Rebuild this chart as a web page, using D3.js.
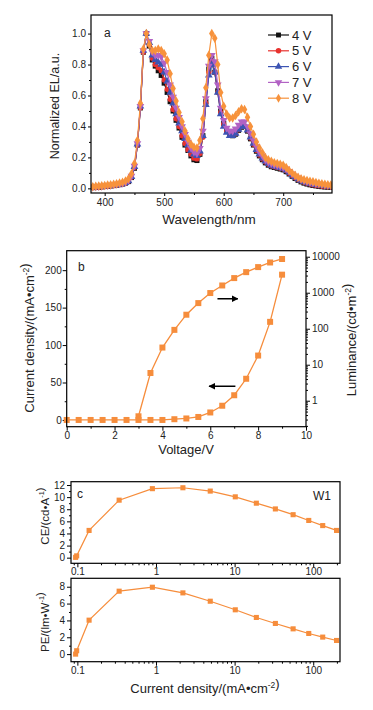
<!DOCTYPE html>
<html>
<head>
<meta charset="utf-8">
<script src="https://cdn.jsdelivr.net/npm/d3@7"></script>
<style>
  body { margin: 0; background: #fff; }
  svg text { font-family: "Liberation Sans", Arial, sans-serif; fill: #222; }
</style>
</head>
<body>
<svg id="chart" width="373" height="710"></svg>
<script>
// ---- panel a : EL spectra ----
const wavelength = [380,385,390,395,400,405,410,415,420,425,430,435,440,445,450,455,460,465,470,475,
  480,485,490,495,500,505,510,515,520,525,530,535,540,545,550,555,560,565,570,575,
  580,585,590,595,600,605,610,615,620,625,630,635,640,645,650,655,660,665,670,675,
  680,685,690,695,700,705,710,715,720,725,730,735,740,745,750,755,760,765,770,775,780];
const el4V = [0.005,0.006,0.008,0.010,0.012,0.014,0.016,0.018,0.021,0.024,0.028,0.034,0.044,0.07,0.13,0.28,0.52,0.88,1.0,0.92,
  0.83,0.79,0.76,0.73,0.68,0.62,0.56,0.50,0.44,0.39,0.33,0.28,0.245,0.21,0.185,0.18,0.22,0.34,0.56,0.77,
  0.84,0.75,0.63,0.50,0.42,0.37,0.35,0.34,0.35,0.375,0.395,0.40,0.37,0.32,0.28,0.24,0.21,0.185,0.165,0.15,
  0.14,0.135,0.13,0.125,0.12,0.108,0.093,0.078,0.064,0.052,0.042,0.034,0.028,0.023,0.019,0.016,0.013,0.011,0.009,0.008,0.007];
const el5V = [0.006,0.007,0.009,0.011,0.013,0.015,0.017,0.019,0.022,0.025,0.029,0.035,0.046,0.072,0.135,0.28,0.52,0.88,1.0,0.93,
  0.84,0.80,0.78,0.76,0.70,0.64,0.575,0.51,0.45,0.40,0.34,0.29,0.25,0.22,0.195,0.19,0.225,0.33,0.55,0.75,
  0.82,0.75,0.62,0.49,0.415,0.37,0.35,0.345,0.355,0.38,0.40,0.40,0.375,0.325,0.285,0.245,0.215,0.19,0.17,0.155,
  0.145,0.14,0.135,0.13,0.125,0.113,0.098,0.083,0.068,0.057,0.047,0.039,0.033,0.028,0.024,0.02,0.017,0.015,0.013,0.011,0.01];
const el6V = [0.007,0.008,0.010,0.012,0.014,0.016,0.018,0.020,0.023,0.026,0.030,0.036,0.047,0.075,0.14,0.285,0.53,0.89,1.0,0.94,
  0.86,0.83,0.815,0.80,0.75,0.69,0.62,0.55,0.48,0.42,0.37,0.32,0.28,0.245,0.22,0.21,0.24,0.34,0.54,0.73,
  0.80,0.75,0.62,0.48,0.40,0.36,0.34,0.34,0.355,0.38,0.40,0.40,0.375,0.33,0.29,0.25,0.22,0.195,0.175,0.16,
  0.15,0.143,0.138,0.133,0.128,0.117,0.102,0.087,0.073,0.061,0.051,0.043,0.037,0.032,0.028,0.024,0.021,0.018,0.016,0.014,0.012];
const el7V = [0.009,0.010,0.012,0.014,0.016,0.018,0.020,0.023,0.026,0.029,0.033,0.040,0.052,0.08,0.145,0.29,0.53,0.89,1.0,0.95,
  0.88,0.86,0.86,0.85,0.81,0.75,0.67,0.59,0.52,0.46,0.40,0.35,0.30,0.26,0.235,0.225,0.26,0.37,0.58,0.79,
  0.86,0.82,0.67,0.52,0.44,0.39,0.37,0.37,0.385,0.41,0.43,0.43,0.40,0.355,0.31,0.27,0.235,0.21,0.185,0.17,
  0.16,0.152,0.147,0.142,0.137,0.126,0.11,0.094,0.08,0.068,0.058,0.05,0.044,0.039,0.035,0.031,0.028,0.025,0.022,0.02,0.018];
const el8V = [0.011,0.013,0.015,0.017,0.019,0.021,0.024,0.027,0.030,0.034,0.039,0.047,0.062,0.095,0.16,0.31,0.55,0.90,1.0,0.93,
  0.89,0.89,0.90,0.89,0.87,0.83,0.74,0.645,0.565,0.49,0.43,0.37,0.32,0.285,0.265,0.26,0.31,0.45,0.65,0.86,
  1.0,0.97,0.80,0.62,0.53,0.48,0.455,0.455,0.47,0.495,0.515,0.51,0.46,0.40,0.35,0.30,0.26,0.23,0.20,0.185,
  0.175,0.165,0.16,0.155,0.15,0.135,0.115,0.10,0.085,0.072,0.062,0.055,0.05,0.046,0.043,0.038,0.033,0.029,0.026,0.023,0.021];
const seriesNames = ["4 V", "5 V", "6 V", "7 V", "8 V"];

// ---- panel b : J-V-L ----
const voltage = [0,0.5,1,1.5,2,2.5,3,3.5,4,4.5,5,5.5,6,6.5,7,7.5,8,8.5,9];
const currentDensity = [0,0,0,0,0,0,0,0,0,1,2,4,10,19,33,55,86,131,194];
const lumVoltage = [3,3.5,4,4.5,5,5.5,6,6.5,7,7.5,8,8.5,9];
const luminance = [0.37,5.9,30,93,245,515,980,1590,2550,3730,5150,6920,8660];

// ---- panel c : efficiencies ----
const effCurrent = [0.095,0.098,0.141,0.34,0.90,2.2,4.9,10.2,18.9,33,55.5,87.7,132,198];
const ceValues = [0.05,0.3,4.5,9.5,11.4,11.55,11.0,10.05,9.0,8.05,7.1,6.15,5.3,4.5];
const peValues = [0.0,0.4,4.03,7.47,7.94,7.27,6.28,5.26,4.35,3.64,3.0,2.45,2.02,1.62];

// tick labels
const aXTicks = [400,500,600,700];
const aYTicks = [0,0.2,0.4,0.6,0.8,1.0];
const bXTicks = [0,2,4,6,8,10];
const bYTicks = [0,50,100,150,200];
const bLumTicks = [1,10,100,1000,10000];
const cXTicks = [0.1,1,10,100];
const ceTicks = [0,2,4,6,8,10,12];
const peTicks = [0,2,4,6,8];

const orange = "#f68d3c";
const svg = d3.select("#chart");

// arrow head for panel b
svg.append("defs").append("marker")
    .attr("id", "head")
    .attr("viewBox", "0 0 10 10")
    .attr("refX", 9).attr("refY", 5)
    .attr("markerWidth", 4.5).attr("markerHeight", 4.5)
    .attr("orient", "auto")
  .append("path")
    .attr("d", "M0,0L10,5L0,10Z")
    .attr("fill", "#000");

// helper: axis without domain line
function drawAxis(axis, transform, fontSize) {
  const g = svg.append("g")
      .attr("transform", transform)
      .attr("font-size", fontSize)
      .attr("font-family", "Liberation Sans, Arial, sans-serif")
      .call(axis);
  g.select(".domain").remove();
  g.selectAll(".tick line").attr("stroke", "#000");
  g.selectAll(".tick text").attr("fill", "#222");
  return g;
}

function frame(box) {
  svg.append("rect")
      .attr("x", box.left).attr("y", box.top)
      .attr("width", box.right - box.left)
      .attr("height", box.bottom - box.top)
      .attr("fill", "none")
      .attr("stroke", "#000")
      .attr("stroke-width", 1.2);
}

function rotatedTitle(x, y, parts, size) {
  const t = svg.append("text")
      .attr("transform", "translate(" + x + "," + y + ") rotate(-90)")
      .attr("text-anchor", "middle")
      .attr("font-size", size);
  addParts(t, parts, size);
}

function addParts(t, parts, size) {
  parts.forEach(p => {
    if (p.sup) {
      t.append("tspan").attr("dy", -size * 0.4).attr("font-size", size * 0.65).text(p.sup);
      t.append("tspan").attr("dy", size * 0.4).text("");
    } else {
      t.append("tspan").text(p.t);
    }
  });
}

// ================= panel a =================
const aBox = {left: 91, right: 332, top: 15, bottom: 193};
const xA = d3.scaleLinear().domain([377, 782]).range([aBox.left, aBox.right]);
const yA = d3.scaleLinear().domain([-0.03, 1.12]).range([aBox.bottom, aBox.top]);

drawAxis(d3.axisBottom(xA).tickValues(aXTicks).tickSize(3).tickPadding(3),
  "translate(0," + aBox.bottom + ")", 12);
drawAxis(d3.axisBottom(xA).tickValues([450,550,650,750]).tickSize(2).tickFormat(""),
  "translate(0," + aBox.bottom + ")", 12);
drawAxis(d3.axisLeft(yA).tickValues(aYTicks).tickSize(3).tickPadding(2).tickFormat(d3.format(".1f")),
  "translate(" + aBox.left + ",0)", 12);
drawAxis(d3.axisLeft(yA).tickValues([0.1,0.3,0.5,0.7,0.9]).tickSize(2).tickFormat(""),
  "translate(" + aBox.left + ",0)", 12);

const specSeries = [
  {name: seriesNames[0], values: el4V, color: "#111111", symbol: d3.symbolSquare, rot: 0},
  {name: seriesNames[1], values: el5V, color: "#e8322e", symbol: d3.symbolCircle, rot: 0},
  {name: seriesNames[2], values: el6V, color: "#3c54b3", symbol: d3.symbolTriangle, rot: 0},
  {name: seriesNames[3], values: el7V, color: "#b262c4", symbol: d3.symbolTriangle, rot: 180},
  {name: seriesNames[4], values: el8V, color: "#f7923c", symbol: d3.symbolDiamond, rot: 0}
];

svg.append("clipPath").attr("id", "clipA").append("rect")
    .attr("x", aBox.left).attr("y", aBox.top)
    .attr("width", aBox.right - aBox.left).attr("height", aBox.bottom - aBox.top);

const specLine = d3.line()
    .x((d, i) => xA(wavelength[i]))
    .y(d => yA(d));

const specG = svg.append("g").attr("clip-path", "url(#clipA)");
specSeries.forEach(s => {
  specG.append("path")
      .datum(s.values)
      .attr("fill", "none")
      .attr("stroke", s.color)
      .attr("stroke-width", 1.2)
      .attr("d", specLine);
  specG.selectAll(null)
      .data(s.values)
      .enter().append("path")
      .attr("transform", (d, i) => "translate(" + xA(wavelength[i]) + "," + yA(d) + ") rotate(" + s.rot + ")")
      .attr("d", d3.symbol().type(s.symbol).size(s.symbol === d3.symbolCircle ? 22 : 26))
      .attr("fill", s.color);
});

frame(aBox);

// legend
const legend = svg.append("g");
specSeries.forEach((s, i) => {
  const ly = 35 + i * 15.8;
  legend.append("line")
      .attr("x1", 268).attr("x2", 289).attr("y1", ly).attr("y2", ly)
      .attr("stroke", s.color).attr("stroke-width", 1.2);
  legend.append("path")
      .attr("transform", "translate(278.5," + ly + ") rotate(" + s.rot + ")")
      .attr("d", d3.symbol().type(s.symbol).size(24))
      .attr("fill", s.color);
  legend.append("text")
      .attr("x", 292).attr("y", ly + 4.5)
      .attr("font-size", 13)
      .text(s.name);
});

svg.append("text").attr("x", 104).attr("y", 37).attr("font-size", 12).text("a");
svg.append("text")
    .attr("x", 209).attr("y", 224)
    .attr("text-anchor", "middle")
    .attr("font-size", 13.5)
    .text("Wavelength/nm");
rotatedTitle(59, 106, [{t: "Normalized EL/a.u."}], 12.5);

// ================= panel b =================
const bBox = {left: 66.7, right: 306, top: 250.7, bottom: 426.7};
const xB = d3.scaleLinear().domain([0, 10]).range([bBox.left, bBox.right]);
const yB = d3.scaleLinear().domain([-9, 226]).range([bBox.bottom, bBox.top]);
const yL = d3.scaleLog().domain([0.19, 14700]).range([bBox.bottom, bBox.top]);

drawAxis(d3.axisBottom(xB).tickValues(bXTicks).tickSize(4).tickPadding(1),
  "translate(0," + bBox.bottom + ")", 13);
drawAxis(d3.axisBottom(xB).tickValues([1,3,5,7,9]).tickSize(2).tickFormat(""),
  "translate(0," + bBox.bottom + ")", 13);
drawAxis(d3.axisLeft(yB).tickValues(bYTicks).tickSize(4).tickPadding(1),
  "translate(" + bBox.left + ",0)", 13);
drawAxis(d3.axisLeft(yB).tickValues([25,75,125,175]).tickSize(2).tickFormat(""),
  "translate(" + bBox.left + ",0)", 13);
drawAxis(d3.axisRight(yL).tickValues(bLumTicks).tickSize(4).tickPadding(2).tickFormat(d3.format("d")),
  "translate(" + bBox.right + ",0)", 12);
drawAxis(d3.axisRight(yL).tickValues(yL.ticks().filter(v => bLumTicks.indexOf(v) < 0)).tickSize(2).tickFormat(""),
  "translate(" + bBox.right + ",0)", 12);

const sq = d3.symbol().type(d3.symbolSquare).size(36);

// current density curve
svg.append("path")
    .datum(currentDensity)
    .attr("fill", "none").attr("stroke", orange).attr("stroke-width", 1.3)
    .attr("d", d3.line().x((d, i) => xB(voltage[i])).y(d => yB(d)));
svg.selectAll(null).data(currentDensity).enter().append("path")
    .attr("transform", (d, i) => "translate(" + xB(voltage[i]) + "," + yB(d) + ")")
    .attr("d", sq).attr("fill", orange);

// luminance curve
svg.append("path")
    .datum(luminance)
    .attr("fill", "none").attr("stroke", orange).attr("stroke-width", 1.3)
    .attr("d", d3.line().x((d, i) => xB(lumVoltage[i])).y(d => yL(d)));
svg.selectAll(null).data(luminance).enter().append("path")
    .attr("transform", (d, i) => "translate(" + xB(lumVoltage[i]) + "," + yL(d) + ")")
    .attr("d", sq).attr("fill", orange);

frame(bBox);

// arrows
svg.append("line")
    .attr("x1", xB(6.3)).attr("x2", xB(7.15))
    .attr("y1", yL(680)).attr("y2", yL(680))
    .attr("stroke", "#000").attr("stroke-width", 1.5)
    .attr("marker-end", "url(#head)");
svg.append("line")
    .attr("x1", xB(7.05)).attr("x2", xB(5.95))
    .attr("y1", yB(45)).attr("y2", yB(45))
    .attr("stroke", "#000").attr("stroke-width", 1.5)
    .attr("marker-end", "url(#head)");

svg.append("text").attr("x", 78).attr("y", 271).attr("font-size", 12).text("b");
svg.append("text")
    .attr("x", 186).attr("y", 454)
    .attr("text-anchor", "middle")
    .attr("font-size", 13)
    .text("Voltage/V");
rotatedTitle(34, 338, [{t: "Current density/(mA•cm"}, {sup: "-2"}, {t: ")"}], 13);
rotatedTitle(356, 340, [{t: "Luminance/(cd•m"}, {sup: "-2"}, {t: ")"}], 13);

// ================= panel c =================
const ceBox = {left: 71, right: 340, top: 481.7, bottom: 563.3};
const peBox = {left: 71, right: 340, top: 578.3, bottom: 661.7};
const xC = d3.scaleLog().domain([0.083, 219]).range([ceBox.left, ceBox.right]);
const yCE = d3.scaleLinear().domain([-0.93, 12.55]).range([ceBox.bottom, ceBox.top]);
const yPE = d3.scaleLinear().domain([-0.9, 9.0]).range([peBox.bottom, peBox.top]);
const minorC = xC.ticks().filter(v => cXTicks.indexOf(v) < 0);

[[ceBox, yCE, ceValues, ceTicks, [1,3,5,7,9,11]], [peBox, yPE, peValues, peTicks, [1,3,5,7]]].forEach(p => {
  const box = p[0], y = p[1], vals = p[2];
  drawAxis(d3.axisBottom(xC).tickValues(cXTicks).tickSize(4).tickPadding(1).tickFormat(d3.format("~g")),
    "translate(0," + box.bottom + ")", 11);
  drawAxis(d3.axisBottom(xC).tickValues(minorC).tickSize(2).tickFormat(""),
    "translate(0," + box.bottom + ")", 11);
  drawAxis(d3.axisLeft(y).tickValues(p[3]).tickSize(4).tickPadding(2),
    "translate(" + box.left + ",0)", 11);
  drawAxis(d3.axisLeft(y).tickValues(p[4]).tickSize(2).tickFormat(""),
    "translate(" + box.left + ",0)", 11);

  svg.append("path")
      .datum(vals)
      .attr("fill", "none").attr("stroke", orange).attr("stroke-width", 1.2)
      .attr("d", d3.line().x((d, i) => xC(effCurrent[i])).y(d => y(d)));
  svg.selectAll(null).data(vals).enter().append("path")
      .attr("transform", (d, i) => "translate(" + xC(effCurrent[i]) + "," + y(d) + ")")
      .attr("d", d3.symbol().type(d3.symbolSquare).size(26))
      .attr("fill", orange);
  frame(box);
});

svg.append("text").attr("x", 77).attr("y", 498).attr("font-size", 12).text("c");
svg.append("text").attr("x", 313).attr("y", 500).attr("font-size", 12).text("W1");
rotatedTitle(49, 516, [{t: "CE/(cd•A"}, {sup: "-1"}, {t: ")"}], 11.5);
rotatedTitle(49, 622, [{t: "PE/(lm•W"}, {sup: "-1"}, {t: ")"}], 11.5);
const cTitle = svg.append("text")
    .attr("x", 205).attr("y", 693)
    .attr("text-anchor", "middle")
    .attr("font-size", 13);
addParts(cTitle, [{t: "Current density/(mA•cm"}, {sup: "-2"}, {t: ")"}], 13);
</script>
</body>
</html>
